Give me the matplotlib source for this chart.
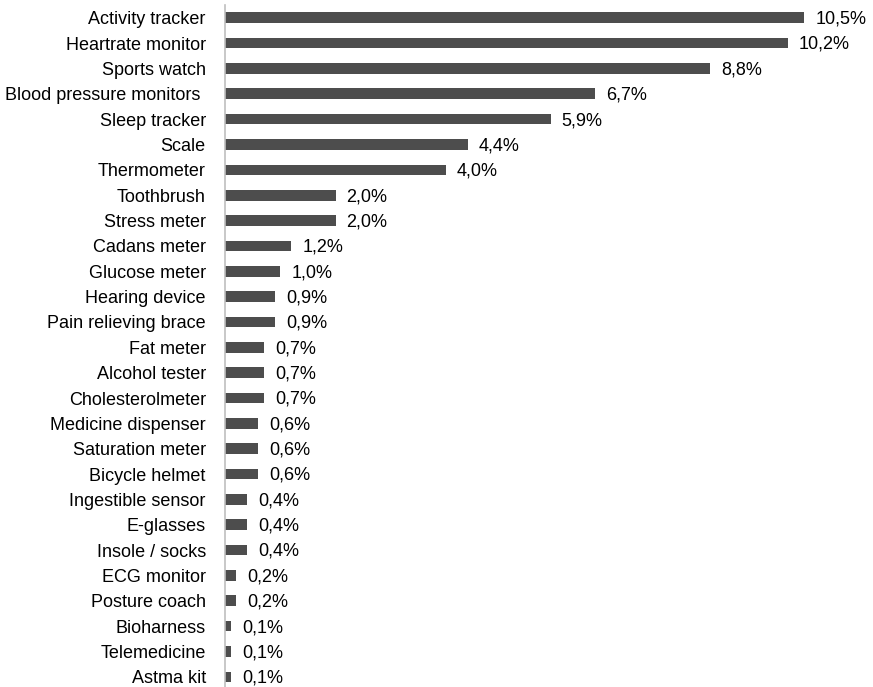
import matplotlib.pyplot as plt

plt.rcParams['font.family'] = ['Liberation Sans', 'DejaVu Sans']

devices = ['Activity tracker', 'Heartrate monitor', 'Sports watch',
           'Blood pressure monitors ', 'Sleep tracker', 'Scale', 'Thermometer',
           'Toothbrush', 'Stress meter', 'Cadans meter', 'Glucose meter',
           'Hearing device', 'Pain relieving brace', 'Fat meter', 'Alcohol tester',
           'Cholesterolmeter', 'Medicine dispenser', 'Saturation meter',
           'Bicycle helmet', 'Ingestible sensor', 'E-glasses', 'Insole / socks',
           'ECG monitor', 'Posture coach', 'Bioharness', 'Telemedicine', 'Astma kit']
shares = [10.5, 10.2, 8.8, 6.7, 5.9, 4.4, 4.0, 2.0, 2.0, 1.2, 1.0, 0.9, 0.9,
          0.7, 0.7, 0.7, 0.6, 0.6, 0.6, 0.4, 0.4, 0.4, 0.2, 0.2, 0.1, 0.1, 0.1]

fig = plt.figure(figsize=(8.73, 6.87), dpi=100)
ax = fig.add_axes([0.258, 0.0, 0.72, 0.993])

y = range(len(devices))
ax.barh(y, shares, height=0.42, color='#4d4d4d')

for i, v in enumerate(shares):
    ax.annotate(f'{v:.1f}%'.replace('.', ','), (v, i), xytext=(8, -1),
                textcoords='offset points', va='center', ha='left', fontsize=13)

ax.set_yticks(list(y))
ax.set_yticklabels(devices, fontsize=13)
ax.set_ylim(len(devices) - 0.6, -0.51)
ax.set_xlim(0, 11.4)
ax.set_xticks([])
ax.tick_params(axis='y', length=0, pad=14)
for s in ['top', 'right', 'bottom']:
    ax.spines[s].set_visible(False)
ax.spines['left'].set_color('#bfbfbf')
ax.spines['left'].set_linewidth(1.2)

fig.savefig('out.png', dpi=100)
